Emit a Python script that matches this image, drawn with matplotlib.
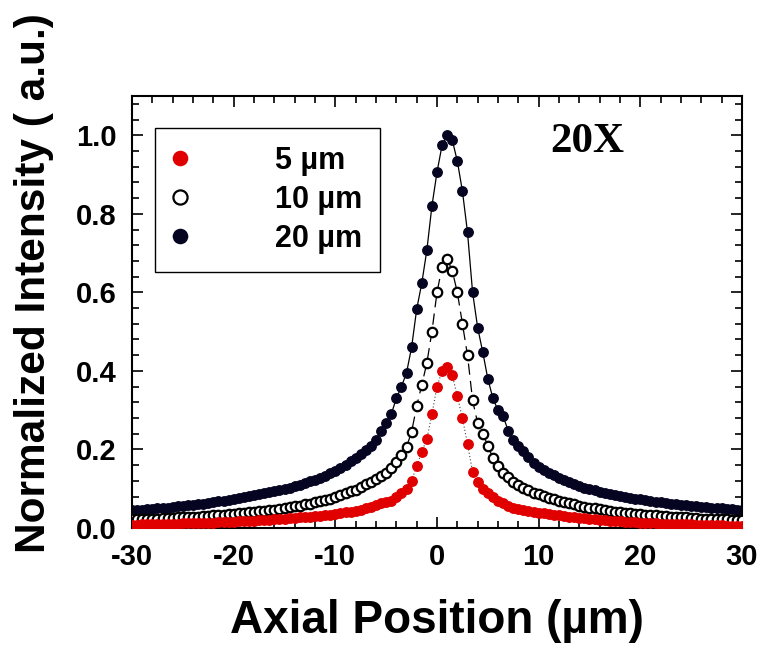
import numpy as np
import matplotlib
matplotlib.use('Agg')
import matplotlib.pyplot as plt
from matplotlib.ticker import MultipleLocator

plt.rcParams['font.family'] = ['Liberation Sans', 'DejaVu Sans']
plt.rcParams['font.weight'] = 'bold'
plt.rcParams['axes.unicode_minus'] = False

# axial positions, 0.5 um steps
z = np.arange(-30, 30.5, 0.5)

i_20um = [
    0.045, 0.046, 0.047, 0.048, 0.049, 0.050, 0.051, 0.052, 0.054, 0.055,
    0.056, 0.058, 0.059, 0.061, 0.062, 0.064, 0.066, 0.068, 0.070, 0.072,
    0.074, 0.076, 0.079, 0.081, 0.083, 0.086, 0.088, 0.091, 0.094, 0.097,
    0.100, 0.103, 0.107, 0.110, 0.114, 0.119, 0.123, 0.128, 0.133, 0.139,
    0.146, 0.152, 0.160, 0.170, 0.178, 0.188, 0.198, 0.210, 0.224, 0.247,
    0.267, 0.290, 0.330, 0.360, 0.395, 0.460, 0.557, 0.623, 0.707, 0.820,
    0.906, 0.975, 1.000, 0.988, 0.934, 0.858, 0.753, 0.600, 0.510, 0.448,
    0.380, 0.330, 0.300, 0.285, 0.248, 0.224, 0.210, 0.196, 0.180, 0.166,
    0.156, 0.148, 0.141, 0.134, 0.128, 0.122, 0.117, 0.112, 0.107, 0.103,
    0.100, 0.096, 0.092, 0.089, 0.086, 0.083, 0.081, 0.079, 0.077, 0.075,
    0.073, 0.071, 0.069, 0.067, 0.065, 0.064, 0.062, 0.061, 0.059, 0.058,
    0.057, 0.055, 0.054, 0.053, 0.052, 0.051, 0.050, 0.049, 0.048, 0.047,
    0.046,
]

i_10um = [
    0.022, 0.022, 0.023, 0.023, 0.024, 0.024, 0.025, 0.025, 0.026, 0.027,
    0.027, 0.028, 0.029, 0.029, 0.030, 0.031, 0.032, 0.033, 0.034, 0.035,
    0.036, 0.037, 0.039, 0.040, 0.041, 0.043, 0.044, 0.046, 0.047, 0.049,
    0.051, 0.053, 0.055, 0.057, 0.060, 0.062, 0.065, 0.068, 0.071, 0.075,
    0.079, 0.083, 0.088, 0.093, 0.098, 0.104, 0.111, 0.118, 0.126, 0.132,
    0.140, 0.153, 0.168, 0.186, 0.206, 0.245, 0.310, 0.364, 0.420, 0.500,
    0.600, 0.665, 0.685, 0.655, 0.600, 0.520, 0.440, 0.325, 0.267, 0.240,
    0.210, 0.178, 0.158, 0.140, 0.130, 0.117, 0.110, 0.103, 0.096, 0.090,
    0.086, 0.081, 0.077, 0.073, 0.070, 0.066, 0.063, 0.060, 0.057, 0.054,
    0.052, 0.050, 0.048, 0.046, 0.044, 0.042, 0.040, 0.039, 0.038, 0.036,
    0.035, 0.034, 0.033, 0.032, 0.031, 0.030, 0.029, 0.028, 0.027, 0.027,
    0.026, 0.025, 0.024, 0.024, 0.023, 0.023, 0.022, 0.022, 0.021, 0.021,
    0.020,
]

i_5um = [
    0.008, 0.008, 0.009, 0.009, 0.009, 0.010, 0.010, 0.010, 0.011, 0.011,
    0.012, 0.012, 0.012, 0.013, 0.013, 0.014, 0.014, 0.015, 0.015, 0.016,
    0.016, 0.017, 0.018, 0.018, 0.019, 0.020, 0.020, 0.021, 0.022, 0.023,
    0.024, 0.025, 0.026, 0.027, 0.028, 0.029, 0.030, 0.031, 0.033, 0.034,
    0.036, 0.038, 0.040, 0.042, 0.044, 0.047, 0.050, 0.054, 0.058, 0.063,
    0.066, 0.070, 0.080, 0.090, 0.100, 0.120, 0.158, 0.194, 0.226, 0.290,
    0.360, 0.400, 0.410, 0.390, 0.335, 0.280, 0.214, 0.143, 0.117, 0.100,
    0.090, 0.080, 0.070, 0.063, 0.057, 0.052, 0.049, 0.046, 0.043, 0.041,
    0.039, 0.037, 0.035, 0.033, 0.032, 0.030, 0.029, 0.027, 0.026, 0.025,
    0.024, 0.022, 0.021, 0.020, 0.019, 0.018, 0.017, 0.016, 0.015, 0.015,
    0.014, 0.013, 0.013, 0.012, 0.011, 0.011, 0.010, 0.010, 0.009, 0.009,
    0.009, 0.008, 0.008, 0.008, 0.007, 0.007, 0.007, 0.006, 0.006, 0.006,
    0.005,
]

fig = plt.figure(figsize=(7.61, 6.53), dpi=100)
ax = fig.add_axes([0.1735, 0.1914, 0.8015, 0.6616])

navy = '#050522'
red = '#e00000'

ax.plot(z, i_20um, '-', color='black', lw=0.9, marker='o', ms=6.8,
        mfc=navy, mec=navy, label='20 \u00b5m', zorder=2)
ax.plot(z, i_10um, color='black', lw=0.9, ls=(0, (9, 5)), marker='o', ms=6.8,
        mfc='white', mec='black', mew=1.6, label='10 \u00b5m', zorder=3)
ax.plot(z, i_5um, color='#444444', lw=0.8, ls=(0, (1, 2)), marker='o', ms=6.8,
        mfc=red, mec=red, label='5 \u00b5m', zorder=4)

ax.set_xlim(-30, 30)
ax.set_ylim(0, 1.1)
ax.xaxis.set_major_locator(MultipleLocator(10))
ax.xaxis.set_minor_locator(MultipleLocator(2))
ax.yaxis.set_minor_locator(MultipleLocator(0.04))
ax.set_yticks([0, 0.2, 0.4, 0.6, 0.8, 1.0])
ax.set_yticklabels(['0.0', '0.2', '0.4', '0.6', '0.8', '1.0'])
ax.tick_params(which='both', direction='in', top=True, right=True,
               labelsize=21, width=1.2)
ax.tick_params(which='major', length=8, pad=11)
ax.tick_params(which='minor', length=5)
for s in ax.spines.values():
    s.set_linewidth(1.5)

ax.set_xlabel('Axial Position (\u00b5m)', fontsize=33, fontweight='bold')
ax.set_ylabel('Normalized Intensity ( a.u.)', fontsize=30.5, fontweight='bold')
ax.xaxis.set_label_coords(0.5, -0.165)
ax.yaxis.set_label_coords(-0.128, 0.567)

handles, labels = ax.get_legend_handles_labels()
leg = ax.legend(handles[::-1], labels[::-1], loc='upper left',
                bbox_to_anchor=(0.038, 0.926), borderaxespad=0,
                fontsize=22, markerscale=1.5, handlelength=0.45,
                handletextpad=2.9, labelspacing=0.3, borderpad=0.58,
                fancybox=False, edgecolor='black', framealpha=1)
leg.get_frame().set_linewidth(1.0)

ax.text(0.747, 0.893, '20X', transform=ax.transAxes, ha='center',
        va='center', fontsize=31, fontweight='bold',
        family=['Liberation Serif', 'DejaVu Serif'])

fig.savefig('out.png', dpi=100)
